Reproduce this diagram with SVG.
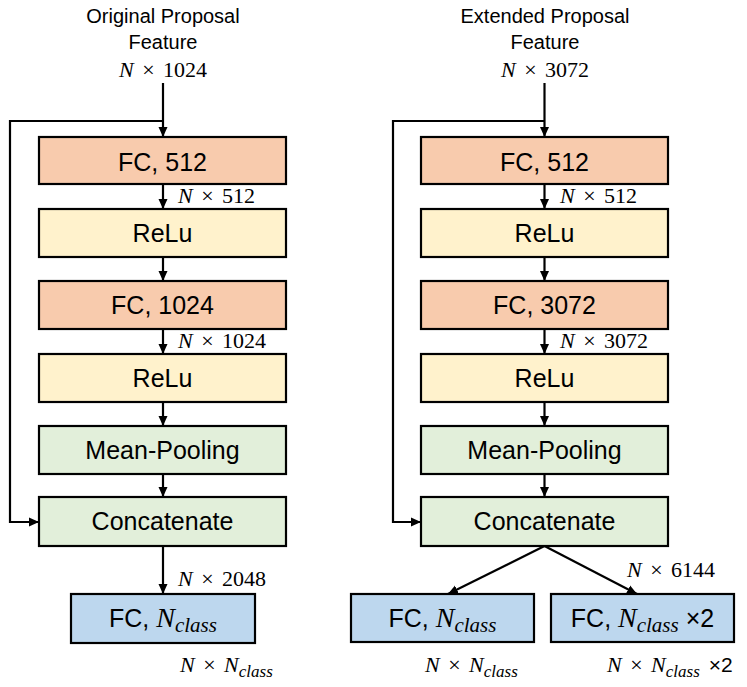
<svg xmlns="http://www.w3.org/2000/svg" width="747" height="687" viewBox="0 0 747 687">
<defs>
<marker id="ah" markerUnits="userSpaceOnUse" markerWidth="10" markerHeight="10" refX="10" refY="5" orient="auto">
<path d="M0,0.5 L10,5 L0,9.5 z" fill="#000"/>
</marker>
<style>
.box{stroke:#000;stroke-width:2.2}
.fc{fill:#F8CBAD}.relu{fill:#FFF2CC}.grn{fill:#E2EFDA}.blu{fill:#BDD7EE}
.t{font-family:"Liberation Sans",Arial,sans-serif;font-size:25px;text-anchor:middle;fill:#000}
.h{font-family:"Liberation Sans",Arial,sans-serif;font-size:20px;text-anchor:middle;fill:#000}
.m{font-family:"Liberation Serif","Times New Roman",serif;font-size:22px;word-spacing:3px;fill:#000}
.i{font-style:italic}
.ln{fill:none;stroke:#000;stroke-width:2.2}
</style>
</defs>
<rect width="747" height="687" fill="#fff"/>

<g id="labels-left">
<text class="h" x="163" y="23">Original Proposal</text>
<text class="h" x="163" y="49">Feature</text>
<text class="m" x="163" y="77" text-anchor="middle"><tspan class="i">N</tspan> × 1024</text>
<text class="m" x="178" y="203"><tspan class="i">N</tspan> × 512</text>
<text class="m" x="178" y="348"><tspan class="i">N</tspan> × 1024</text>
<text class="m" x="178" y="586"><tspan class="i">N</tspan> × 2048</text>
<text class="m" x="180" y="672"><tspan class="i">N</tspan> × <tspan class="i">N</tspan><tspan class="i" font-size="17" dy="5">class</tspan></text>
</g>

<g id="labels-right">
<text class="h" x="545" y="23">Extended Proposal</text>
<text class="h" x="545" y="49">Feature</text>
<text class="m" x="545" y="77" text-anchor="middle"><tspan class="i">N</tspan> × 3072</text>
<text class="m" x="560" y="203"><tspan class="i">N</tspan> × 512</text>
<text class="m" x="560" y="348"><tspan class="i">N</tspan> × 3072</text>
<text class="m" x="627" y="577"><tspan class="i">N</tspan> × 6144</text>
<text class="m" x="425" y="672"><tspan class="i">N</tspan> × <tspan class="i">N</tspan><tspan class="i" font-size="17" dy="5">class</tspan></text>
<text class="m" x="607" y="672"><tspan class="i">N</tspan> × <tspan class="i">N</tspan><tspan class="i" font-size="17" dy="5">class</tspan><tspan font-family="Liberation Sans,Arial,sans-serif" font-size="21" dy="-5"> ×2</tspan></text>
</g>

<g id="L-fc1"><rect class="box fc" x="39" y="137" width="247" height="47"/><text class="t" x="162.5" y="171">FC, 512</text></g>
<g id="L-relu1"><rect class="box relu" x="39" y="209" width="247" height="48"/><text class="t" x="162.5" y="242">ReLu</text></g>
<g id="L-fc2"><rect class="box fc" x="39" y="281" width="247" height="48"/><text class="t" x="162.5" y="314">FC, 1024</text></g>
<g id="L-relu2"><rect class="box relu" x="39" y="354" width="247" height="48"/><text class="t" x="162.5" y="387">ReLu</text></g>
<g id="L-mean"><rect class="box grn" x="39" y="426" width="247" height="48"/><text class="t" x="162.5" y="459">Mean-Pooling</text></g>
<g id="L-concat"><rect class="box grn" x="39" y="497" width="247" height="49"/><text class="t" x="162.5" y="530">Concatenate</text></g>
<g id="L-out"><rect class="box blu" x="71" y="594" width="184" height="49"/><text class="t" x="163" y="627">FC, <tspan font-family="Liberation Serif,serif" font-style="italic" font-size="28">N</tspan><tspan font-family="Liberation Serif,serif" font-style="italic" font-size="21" dy="5">class</tspan></text></g>

<g id="R-fc1"><rect class="box fc" x="421" y="137" width="247" height="47"/><text class="t" x="544.5" y="171">FC, 512</text></g>
<g id="R-relu1"><rect class="box relu" x="421" y="209" width="247" height="48"/><text class="t" x="544.5" y="242">ReLu</text></g>
<g id="R-fc2"><rect class="box fc" x="421" y="281" width="247" height="48"/><text class="t" x="544.5" y="314">FC, 3072</text></g>
<g id="R-relu2"><rect class="box relu" x="421" y="354" width="247" height="48"/><text class="t" x="544.5" y="387">ReLu</text></g>
<g id="R-mean"><rect class="box grn" x="421" y="426" width="247" height="48"/><text class="t" x="544.5" y="459">Mean-Pooling</text></g>
<g id="R-concat"><rect class="box grn" x="421" y="497" width="247" height="49"/><text class="t" x="544.5" y="530">Concatenate</text></g>
<g id="R-out1"><rect class="box blu" x="351" y="594" width="183" height="48"/><text class="t" x="442.5" y="627">FC, <tspan font-family="Liberation Serif,serif" font-style="italic" font-size="28">N</tspan><tspan font-family="Liberation Serif,serif" font-style="italic" font-size="21" dy="5">class</tspan></text></g>
<g id="R-out2"><rect class="box blu" x="551" y="594" width="183" height="48"/><text class="t" x="642.5" y="627">FC, <tspan font-family="Liberation Serif,serif" font-style="italic" font-size="28">N</tspan><tspan font-family="Liberation Serif,serif" font-style="italic" font-size="21" dy="5">class</tspan><tspan dy="-5"> ×2</tspan></text></g>

<g id="connectors">
<line class="ln" x1="163" y1="83" x2="163" y2="137" marker-end="url(#ah)"/>
<polyline class="ln" points="163,121 10,121 10,522 39,522" marker-end="url(#ah)"/>
<line class="ln" x1="163" y1="184" x2="163" y2="209" marker-end="url(#ah)"/>
<line class="ln" x1="163" y1="257" x2="163" y2="281" marker-end="url(#ah)"/>
<line class="ln" x1="163" y1="329" x2="163" y2="354" marker-end="url(#ah)"/>
<line class="ln" x1="163" y1="402" x2="163" y2="426" marker-end="url(#ah)"/>
<line class="ln" x1="163" y1="474" x2="163" y2="497" marker-end="url(#ah)"/>
<line class="ln" x1="163" y1="546" x2="163" y2="594" marker-end="url(#ah)"/>

<line class="ln" x1="544.5" y1="83" x2="544.5" y2="137" marker-end="url(#ah)"/>
<polyline class="ln" points="544.5,121 393,121 393,522 421,522" marker-end="url(#ah)"/>
<line class="ln" x1="544.5" y1="184" x2="544.5" y2="209" marker-end="url(#ah)"/>
<line class="ln" x1="544.5" y1="257" x2="544.5" y2="281" marker-end="url(#ah)"/>
<line class="ln" x1="544.5" y1="329" x2="544.5" y2="354" marker-end="url(#ah)"/>
<line class="ln" x1="544.5" y1="402" x2="544.5" y2="426" marker-end="url(#ah)"/>
<line class="ln" x1="544.5" y1="474" x2="544.5" y2="497" marker-end="url(#ah)"/>
<line class="ln" x1="544.5" y1="546" x2="448" y2="594" marker-end="url(#ah)"/>
<line class="ln" x1="544.5" y1="546" x2="637" y2="594" marker-end="url(#ah)"/>
</g>
</svg>
